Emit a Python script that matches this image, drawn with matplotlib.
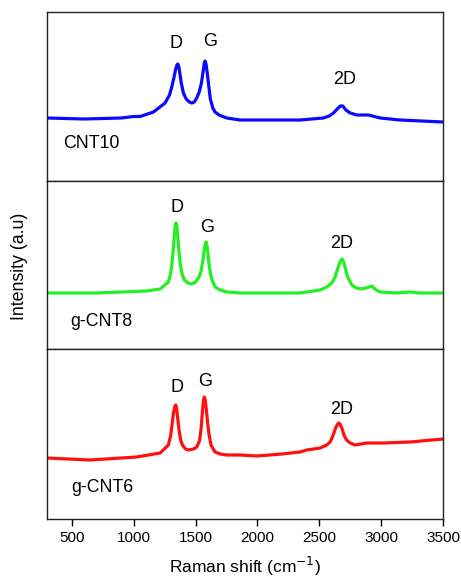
import matplotlib
matplotlib.use("Agg")
import matplotlib.pyplot as plt

plt.rcParams['font.family'] = ['Liberation Sans', 'DejaVu Sans']

# ---- data (Raman shift, intensity a.u.) ----
cnt10_x = [300, 600, 900, 1000, 1052, 1160, 1254, 1290, 1308, 1325, 1340, 1350, 1357, 1364,
           1372, 1385, 1402, 1425, 1450, 1470, 1490, 1510, 1530, 1548, 1562, 1570, 1577, 1585,
           1595, 1608, 1620, 1640, 1658, 1690, 1753, 1860, 2100, 2345,
           2534, 2580, 2615, 2645, 2670, 2690, 2715, 2750, 2804, 2898, 2992, 3154, 3500]
cnt10_y = [63, 62, 63, 64.5, 64.5, 69, 78, 86, 94, 103, 112, 116, 117, 115,
           109, 98, 88, 82, 79, 78, 79, 83, 89, 98, 110, 117, 120, 117,
           108, 94, 82, 73, 69, 66, 63, 61, 61, 61,
           63, 65, 68, 72, 75, 75, 71, 68, 66, 66, 63, 61, 59]

gcnt8_x = [300, 700, 1106, 1214, 1281, 1300, 1312, 1322, 1332, 1338, 1343, 1349, 1356, 1366,
           1378, 1392, 1410, 1440, 1470, 1500, 1525, 1545, 1560, 1572, 1580, 1586, 1593, 1603,
           1615, 1630, 1658, 1700, 1753, 1860, 2200, 2345, 2453,
           2507, 2560, 2602, 2628, 2650, 2670, 2685, 2698, 2712, 2730, 2763, 2800, 2844, 2880,
           2925, 2960, 2992, 3127, 3235, 3300, 3500]
gcnt8_y = [56, 56, 58, 60, 67, 76, 88, 102, 118, 124, 126, 123, 113, 98,
           84, 75, 69, 66, 65, 67, 71, 78, 89, 100, 106, 107, 103, 92,
           80, 70, 62, 59, 57, 56, 56, 56, 58,
           59, 62, 66, 72, 81, 88, 90, 87, 80, 72, 64, 61, 60, 61,
           63, 59, 57, 56, 57, 56, 56]

gcnt6_x = [300, 648, 1025, 1214, 1281, 1300, 1312, 1322, 1333, 1340, 1347, 1356, 1367, 1380,
           1394, 1420, 1443, 1483, 1510, 1532, 1545, 1555, 1563, 1570, 1577, 1587, 1598, 1610,
           1625, 1658, 1700, 1753, 1860, 1995, 2200, 2345, 2400,
           2507, 2560, 2588, 2610, 2635, 2655, 2668, 2685, 2700, 2720, 2750, 2790, 2885, 3019,
           3235, 3500]
gcnt6_y = [61, 59, 62, 66, 74, 84, 96, 106, 113, 114, 111, 101, 89, 79,
           74, 70, 69, 70, 72, 78, 90, 106, 117, 122, 120, 110, 96, 84,
           74, 67, 65, 64, 64, 63, 65, 67, 69,
           71, 74, 77, 83, 92, 96, 95, 90, 84, 79, 76, 74, 76, 76,
           77, 80]

sample_names = ["CNT10", "g-CNT8", "g-CNT6"]
series_x = [cnt10_x, gcnt8_x, gcnt6_x]
series_y = [cnt10_y, gcnt8_y, gcnt6_y]
colors = ["#0a0aff", "#22f022", "#ff1010"]

# peak labels: (text, x, y) per panel
peak_labels = [
    [("D", 1343, 138), ("G", 1618, 139), ("2D", 2709, 102)],
    [("D", 1348, 141), ("G", 1591, 121), ("2D", 2682, 106)],
    [("D", 1348, 132), ("G", 1577, 138), ("2D", 2682, 109)],
]
name_pos = [(432, 38), (486, 28), (500, 31)]
xticks = [500, 1000, 1500, 2000, 2500, 3000, 3500]

W, H = 461, 578
fig = plt.figure(figsize=(W / 100, H / 100), dpi=100)

edges_px = [(12, 181), (181, 349), (349, 519)]
left_px, right_px = 47, 443
axes = []
for i, (top, bot) in enumerate(edges_px):
    ax = fig.add_axes([left_px / W, 1 - bot / H, (right_px - left_px) / W, (bot - top) / H])
    axes.append(ax)
    ax.plot(series_x[i], series_y[i], color=colors[i], lw=2.3,
            solid_joinstyle='round', solid_capstyle='round')
    ax.set_xlim(300, 3500)
    ax.set_ylim(0, bot - top)
    ax.set_yticks([])
    for t, x, y in peak_labels[i]:
        ax.text(x, y, t, ha='center', va='center', fontsize=13)
    nx, ny = name_pos[i]
    ax.text(nx, ny, sample_names[i], ha='left', va='center', fontsize=12.8)
    for s in ax.spines.values():
        s.set_linewidth(1.0)
        s.set_color('#222222')
    if i < 2:
        ax.set_xticks([])
    else:
        ax.set_xticks(xticks)
        ax.tick_params(axis='x', direction='out', length=5, width=1, labelsize=11, pad=4)

fig.text(245 / W, 1 - 566 / H, "Raman shift (cm$^{-1}$)", ha='center', va='center', fontsize=12.5)
fig.text(20 / W, 1 - 266 / H, "Intensity (a.u)", rotation=90, ha='center', va='center', fontsize=12.8)

fig.savefig("out.png", dpi=100, facecolor='white')
